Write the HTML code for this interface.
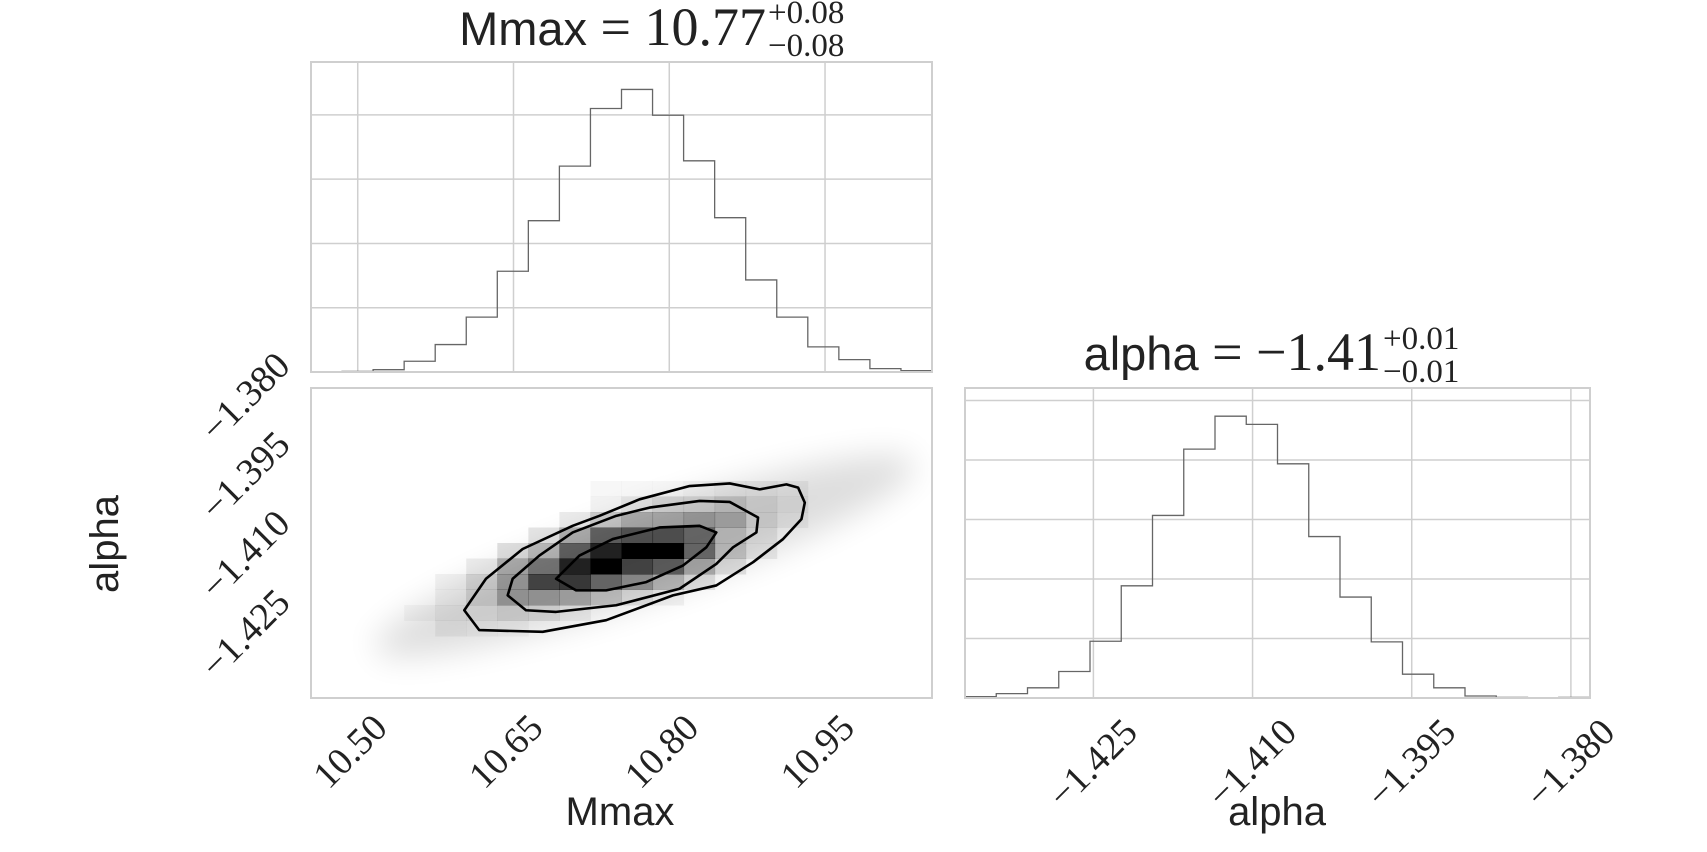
<!DOCTYPE html>
<html><head><meta charset="utf-8"><style>
html,body{margin:0;padding:0;background:#fff;width:1707px;height:852px;overflow:hidden}
svg{display:block}
.sans{font-family:"Liberation Sans",sans-serif}
.serif{font-family:"Liberation Serif",serif}
</style></head><body>
<svg id="fig" width="1707" height="852" viewBox="0 0 1707 852" xmlns="http://www.w3.org/2000/svg">
<defs><filter id="blur" x="-50%" y="-50%" width="200%" height="200%"><feGaussianBlur stdDeviation="16"/></filter>
<clipPath id="clipS"><rect x="311" y="388" width="621" height="310"/></clipPath></defs>
<g id="g-top"></g>
<g id="g-scatter"></g>
<g id="g-right"></g>
<g>
<text x="766" y="45" text-anchor="end" fill="#222"><tspan class="sans" font-size="47">Mmax</tspan><tspan class="serif" font-size="54"> = 10.77</tspan></text>
<text class="serif" x="768" y="23" font-size="33" fill="#222">+0.08</text>
<text class="serif" x="768" y="56" font-size="33" fill="#222">−0.08</text>
</g>
<g>
<text x="1381" y="370" text-anchor="end" fill="#222"><tspan class="sans" font-size="47">alpha</tspan><tspan class="serif" font-size="54"> = −1.41</tspan></text>
<text class="serif" x="1383" y="349" font-size="33" fill="#222">+0.01</text>
<text class="serif" x="1383" y="382" font-size="33" fill="#222">−0.01</text>
</g>
<text class="sans" x="620" y="825" text-anchor="middle" font-size="40" fill="#222">Mmax</text>
<text class="sans" x="1277" y="825" text-anchor="middle" font-size="40" fill="#222">alpha</text>
<text class="sans" transform="translate(118,544) rotate(-90)" text-anchor="middle" font-size="40" fill="#222">alpha</text>
</svg>
<script>
const mmaxDomain = [10.455, 11.053];
const alphaDomain = [-1.4371, -1.3782];
const mmaxTicks = [10.50, 10.65, 10.80, 10.95];
const mmaxTickLabels = ["10.50", "10.65", "10.80", "10.95"];
const alphaTicks = [-1.425, -1.410, -1.395, -1.380];
const alphaTickLabels = ["−1.425", "−1.410", "−1.395", "−1.380"];
const mmaxCounts = [5,10,36,167,427,854,1568,2354,3203,4099,4396,3995,3286,2401,1432,854,391,193,52,21];
const mmaxCountMax = 4823;
const alphaCounts = [23,74,171,446,954,1886,3069,4183,4737,4600,3937,2714,1697,943,400,171,34,11,6,11];
const alphaCountMax = 5211;
const countTicks = [1000,2000,3000,4000,5000];
const cellRows = [6,6,6,6,6,6,6, 7,7,7,7,7,7,7, 8,8,8,8,8,8,8,8, 9,9,9,9,9,9,9,9, 10,10,10,10,10,10,10,10,10, 11,11,11,11,11,11,11,11,11, 12,12,12,12,12,12,12,12,12, 13,13,13,13,13,13,13,13, 14,14,14,14,14,14, 15,15,15];
const cellCols = [9,10,11,12,13,14,15, 9,10,11,12,13,14,15, 8,9,10,11,12,13,14,15, 7,8,9,10,11,12,13,14, 6,7,8,9,10,11,12,13,14, 5,6,7,8,9,10,11,12,13, 4,5,6,7,8,9,10,11,12, 4,5,6,7,8,9,10,11, 3,4,5,6,7,8, 4,5,6];
const cellDens = [0.03,0.03,0.03,0.05,0.07,0.07,0.05, 0.05,0.1,0.15,0.15,0.2,0.12,0.07, 0.08,0.2,0.3,0.3,0.35,0.3,0.12,0.05, 0.1,0.3,0.6,0.65,0.65,0.55,0.2,0.08, 0.12,0.25,0.6,0.85,1.0,1.0,0.55,0.2,0.07, 0.07,0.3,0.5,0.85,1.0,0.7,0.6,0.3,0.1, 0.05,0.15,0.35,0.7,0.75,0.55,0.4,0.25,0.1, 0.05,0.15,0.35,0.35,0.3,0.2,0.1,0.05, 0.03,0.07,0.08,0.12,0.1,0.05, 0.05,0.04,0.03];
const outerMmax = [10.6026,10.6170,10.6781,10.7392,10.8035,10.8453,10.8807,10.9096,10.9273,10.9305,10.9241,10.9128,10.8871,10.8582,10.8196,10.7714,10.7328,10.7070,10.6588,10.6235,10.6026];
const outerAlpha = [-1.42043,-1.42420,-1.42452,-1.42232,-1.41760,-1.41571,-1.41130,-1.40690,-1.40312,-1.39998,-1.39714,-1.39651,-1.39746,-1.39633,-1.39683,-1.39935,-1.40249,-1.40438,-1.40879,-1.41445,-1.42043];
const midMmax = [10.6444,10.6620,10.6910,10.7489,10.8099,10.8453,10.8614,10.8839,10.8855,10.8582,10.8292,10.7810,10.7489,10.7070,10.6749,10.6492,10.6444];
const midAlpha = [-1.41760,-1.42043,-1.42074,-1.41948,-1.41634,-1.41162,-1.40847,-1.40564,-1.40281,-1.39985,-1.39966,-1.40092,-1.40249,-1.40564,-1.41004,-1.41445,-1.41760];
const innerMmax = [10.6910,10.7103,10.7392,10.7778,10.8132,10.8357,10.8453,10.8292,10.7906,10.7456,10.7135,10.6910];
const innerAlpha = [-1.41445,-1.41665,-1.41665,-1.41508,-1.41193,-1.40847,-1.40564,-1.40438,-1.40470,-1.40690,-1.41004,-1.41445];

const NS = "http://www.w3.org/2000/svg";
function mk(tag, attrs, parent){const e=document.createElementNS(NS,tag);for(const k in attrs)e.setAttribute(k,attrs[k]);parent.appendChild(e);return e;}
const TOP={x0:311,x1:932,y0:62,y1:372}, SC={x0:311,x1:932,y0:388,y1:698}, RT={x0:965,x1:1590,y0:388,y1:698};
function sx(v,d,b){return b.x0+(v-d[0])/(d[1]-d[0])*(b.x1-b.x0);}
function syA(v,b){return b.y1-(v-alphaDomain[0])/(alphaDomain[1]-alphaDomain[0])*(b.y1-b.y0);}
const grid="#cfcfcf";

const gt=document.getElementById('g-top');
countTicks.forEach(c=>{const y=TOP.y1-c/mmaxCountMax*(TOP.y1-TOP.y0); if(y>TOP.y0){const l=mk('line',{x1:TOP.x0,x2:TOP.x1,y1:y,y2:y,stroke:grid,'stroke-width':1.5},gt);

}});
mmaxTicks.forEach(t=>{const x=sx(t,mmaxDomain,TOP);const l=mk('line',{x1:x,x2:x,y1:TOP.y0,y2:TOP.y1,stroke:grid,'stroke-width':1.5},gt);

});
{let d="",w=(mmaxDomain[1]-mmaxDomain[0])/mmaxCounts.length;
mmaxCounts.forEach((c,i)=>{const xa=sx(mmaxDomain[0]+i*w,mmaxDomain,TOP),xb=sx(mmaxDomain[0]+(i+1)*w,mmaxDomain,TOP),y=TOP.y1-c/mmaxCountMax*(TOP.y1-TOP.y0);d+=(i?"L":"M")+xa+","+y+"L"+xb+","+y;});
const p=mk('path',{d:d,fill:'none',stroke:'#666','stroke-width':1.3},gt);

}
const bt=mk('rect',{x:TOP.x0,y:TOP.y0,width:TOP.x1-TOP.x0,height:TOP.y1-TOP.y0,fill:'none',stroke:grid,'stroke-width':2},gt);



const gr=document.getElementById('g-right');
countTicks.forEach(c=>{const y=RT.y1-c/alphaCountMax*(RT.y1-RT.y0);const l=mk('line',{x1:RT.x0,x2:RT.x1,y1:y,y2:y,stroke:grid,'stroke-width':1.5},gr);

});
alphaTicks.forEach((t,i)=>{const x=sx(t,alphaDomain,RT);const l=mk('line',{x1:x,x2:x,y1:RT.y0,y2:RT.y1,stroke:grid,'stroke-width':1.5},gr);


const tx=mk('text',{class:'serif','font-size':38,fill:'#222','text-anchor':'middle','dominant-baseline':'middle',transform:`translate(${x+2},${766}) rotate(-45)`},gr);
tx.textContent=alphaTickLabels[i];

});
{let d="",w=(alphaDomain[1]-alphaDomain[0])/alphaCounts.length;
alphaCounts.forEach((c,i)=>{const xa=sx(alphaDomain[0]+i*w,alphaDomain,RT),xb=sx(alphaDomain[0]+(i+1)*w,alphaDomain,RT),y=RT.y1-c/alphaCountMax*(RT.y1-RT.y0);d+=(i?"L":"M")+xa+","+y+"L"+xb+","+y;});
const p=mk('path',{d:d,fill:'none',stroke:'#666','stroke-width':1.3},gr);

}
const br=mk('rect',{x:RT.x0,y:RT.y0,width:RT.x1-RT.x0,height:RT.y1-RT.y0,fill:'none',stroke:grid,'stroke-width':2},gr);



const gs=document.getElementById('g-scatter');
const inner=mk('g',{'clip-path':'url(#clipS)'},gs);
const cw=(SC.x1-SC.x0)/20, ch=(SC.y1-SC.y0)/20;
cellDens.forEach((v,i)=>{const r=mk('rect',{x:SC.x0+cellCols[i]*cw,y:SC.y0+cellRows[i]*ch,width:cw+0.5,height:ch+0.5,fill:'#000','fill-opacity':v},inner);

});
{const cx=645, cy=556;
const h=mk('ellipse',{cx:cx,cy:cy,rx:285,ry:42,fill:'#000',opacity:0.13,filter:'url(#blur)',transform:`rotate(-19 ${cx} ${cy})`},inner);

}
function contour(mx,al,name){const d=mx.map((m,i)=>(i?"L":"M")+sx(m,mmaxDomain,SC)+","+syA(al[i],SC)).join("")+"Z";
const p=mk('path',{d:d,fill:'none',stroke:'#000','stroke-width':2.6,'stroke-linejoin':'round'},inner);

}
contour(outerMmax,outerAlpha,'contour-outer');
contour(midMmax,midAlpha,'contour-middle');
contour(innerMmax,innerAlpha,'contour-inner');
const bs=mk('rect',{x:SC.x0,y:SC.y0,width:SC.x1-SC.x0,height:SC.y1-SC.y0,fill:'none',stroke:grid,'stroke-width':2},gs);


mmaxTicks.forEach((t,i)=>{const x=sx(t,mmaxDomain,SC);const tx=mk('text',{class:'serif','font-size':38,fill:'#222','text-anchor':'middle','dominant-baseline':'middle',transform:`translate(${x-5},754) rotate(-45)`},gs);
tx.textContent=mmaxTickLabels[i];

});
alphaTicks.forEach((t,i)=>{const y=syA(t,SC);const tx=mk('text',{class:'serif','font-size':38,fill:'#222','text-anchor':'middle','dominant-baseline':'middle',transform:`translate(248,${y+2}) rotate(-45)`},gs);
tx.textContent=alphaTickLabels[i];

});
</script>
</body></html>
